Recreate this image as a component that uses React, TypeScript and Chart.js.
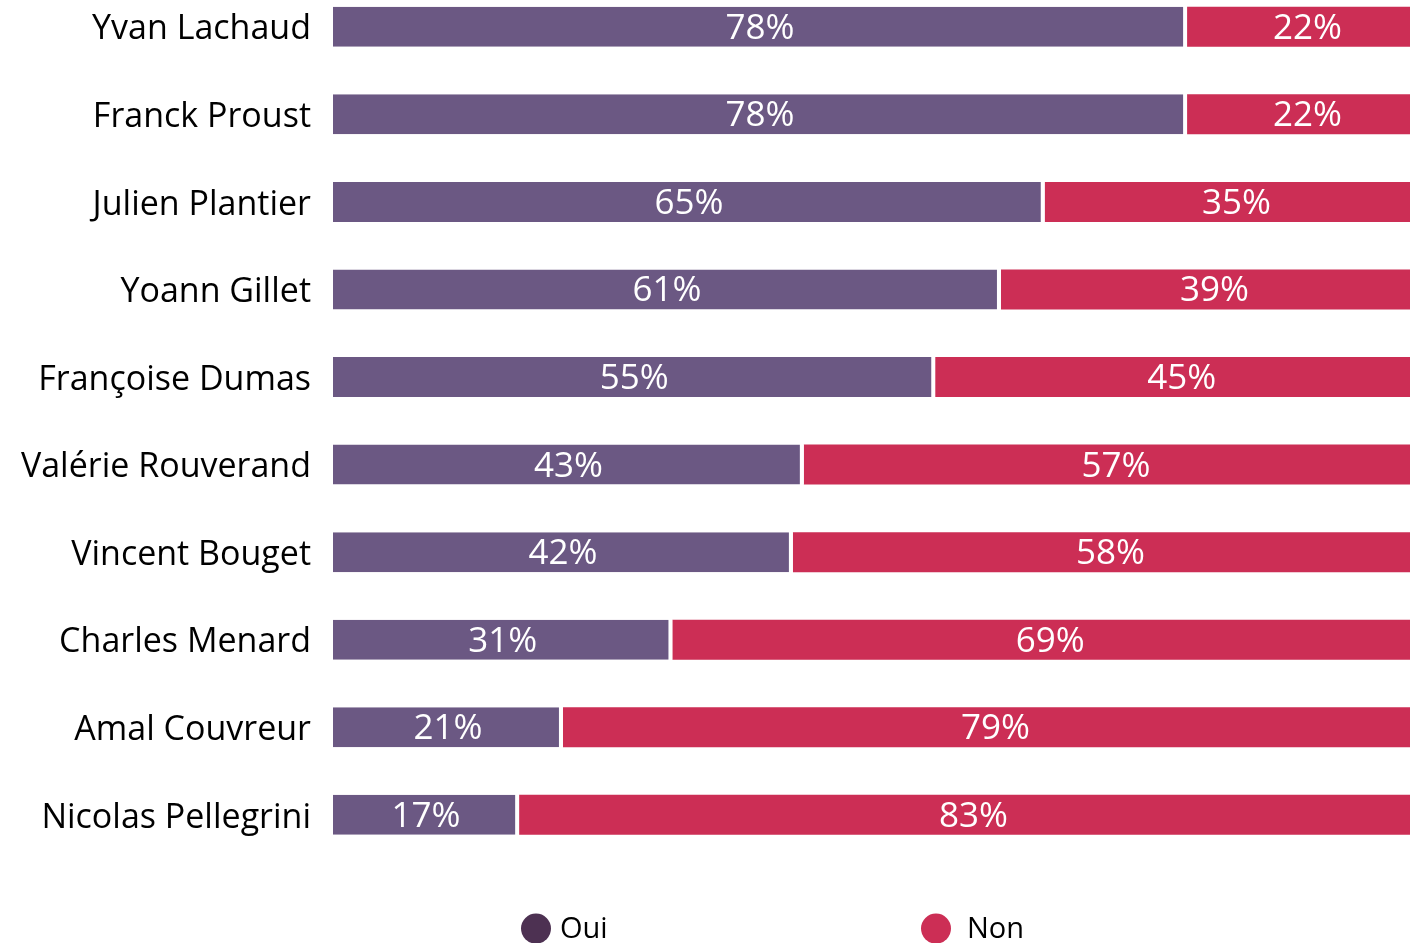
import React, { useEffect, useRef } from "react";
import { Chart, registerables } from "chart.js";

Chart.register(...registerables);

const categories = [
  "Yvan Lachaud",
  "Franck Proust",
  "Julien Plantier",
  "Yoann Gillet",
  "Françoise Dumas",
  "Valérie Rouverand",
  "Vincent Bouget",
  "Charles Menard",
  "Amal Couvreur",
  "Nicolas Pellegrini",
];
const ouiValues = [78, 78, 65, 61, 55, 43, 42, 31, 21, 17];
const nonValues = [22, 22, 35, 39, 45, 57, 58, 69, 79, 83];
const seriesNames = ["Oui", "Non"];
const barColors = ["#6b5883", "#cc2e55"];
const legendColors = ["#4d3152", "#cc2e55"];

const barLabelsPlugin = {
  id: "barLabels",
  afterDatasetsDraw(chart: any) {
    const ctx = chart.ctx;
    ctx.save();
    ctx.font = "35px 'Open Sans'";
    ctx.fillStyle = "#ffffff";
    ctx.textAlign = "center";
    ctx.textBaseline = "middle";
    chart.data.datasets.forEach((ds: any, di: number) => {
      const meta = chart.getDatasetMeta(di);
      meta.data.forEach((el: any, i: number) => {
        const p = el.getProps(["x", "y", "base"], true);
        const cx = (p.x + p.base) / 2;
        ctx.fillText(ds.data[i] + "%", cx, p.y + 2);
      });
    });
    ctx.restore();
  },
};

const legendPlugin = {
  id: "customLegend",
  afterDraw(chart: any) {
    const ctx = chart.ctx;
    const y = chart.chartArea.bottom + 70;
    const dotX = [536, 936];
    const textX = [560, 967];
    ctx.save();
    ctx.font = "29px 'Open Sans'";
    ctx.textBaseline = "middle";
    ctx.textAlign = "left";
    chart.data.datasets.forEach((ds: any, i: number) => {
      ctx.fillStyle = legendColors[i];
      ctx.beginPath();
      ctx.arc(dotX[i], y, 15, 0, Math.PI * 2);
      ctx.fill();
      ctx.fillStyle = "#000000";
      ctx.fillText(ds.label, textX[i], y + 1);
    });
    ctx.restore();
  },
};

export default function App() {
  const ref = useRef<HTMLCanvasElement | null>(null);
  useEffect(() => {
    if (!ref.current) return;
    const chart = new Chart(ref.current, {
      type: "bar",
      data: {
        labels: categories,
        datasets: [
          {
            label: seriesNames[0],
            data: ouiValues,
            backgroundColor: barColors[0],
            borderColor: "#ffffff",
            borderWidth: { top: 0, bottom: 0, left: 0, right: 4 },
            borderSkipped: false,
            categoryPercentage: 0.457,
            barPercentage: 1,
          },
          {
            label: seriesNames[1],
            data: nonValues,
            backgroundColor: barColors[1],
            borderWidth: 0,
            categoryPercentage: 0.457,
            barPercentage: 1,
          },
        ],
      },
      options: {
        indexAxis: "y",
        responsive: false,
        animation: false,
        layout: { padding: { top: 0, right: 0, left: 0, bottom: 84.4 } },
        plugins: {
          legend: { display: false },
          tooltip: { enabled: false },
        },
        scales: {
          x: {
            stacked: true,
            display: false,
            min: 0,
            max: 100,
          },
          y: {
            stacked: true,
            grid: { display: false, drawTicks: false },
            border: { display: false },
            ticks: {
              padding: 22,
              labelOffset: 3,
              color: "#000000",
              font: { family: "'Open Sans'", size: 34 },
            },
            afterFit(scale: any) {
              scale.width = 333;
              scale.paddingTop = 0;
              scale.paddingBottom = 0;
            },
          },
        },
      },
      plugins: [barLabelsPlugin, legendPlugin],
    });
    return () => chart.destroy();
  }, []);
  return (
    <div style={{ position: "absolute", left: 0, top: -17, width: 1428, height: 960 }}>
      <canvas ref={ref} width={1428} height={960} style={{ width: 1428, height: 960 }} />
    </div>
  );
}
